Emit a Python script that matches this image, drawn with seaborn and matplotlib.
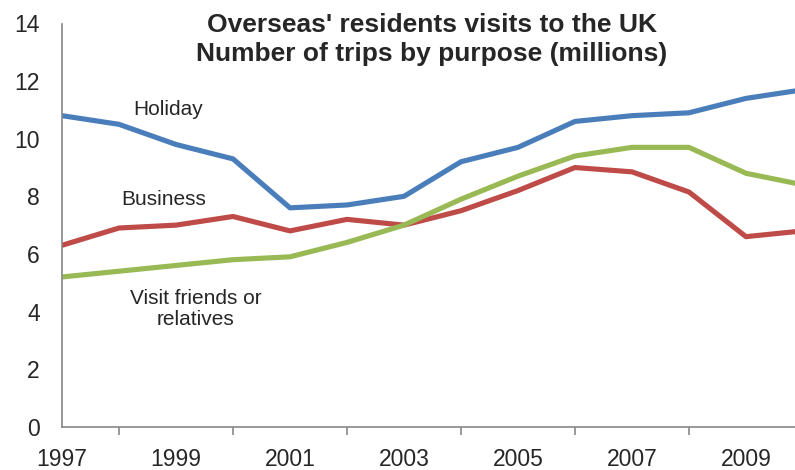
import pandas as pd
import seaborn as sns
import matplotlib.pyplot as plt

# data (millions of trips)
years = list(range(1997, 2011))
holiday = [10.8, 10.5, 9.8, 9.3, 7.6, 7.7, 8.0, 9.2, 9.7, 10.6, 10.8, 10.9, 11.4, 11.7]
business = [6.3, 6.9, 7.0, 7.3, 6.8, 7.2, 7.0, 7.5, 8.2, 9.0, 8.85, 8.15, 6.6, 6.8]
vfr = [5.2, 5.4, 5.6, 5.8, 5.9, 6.4, 7.0, 7.9, 8.7, 9.4, 9.7, 9.7, 8.8, 8.4]
series_names = ['Holiday', 'Business', 'Visit friends or\nrelatives']
colors = ['#4A7EBB', '#BE4B48', '#98B954']

df = pd.DataFrame({
    'year': years * 3,
    'trips': holiday + business + vfr,
    'purpose': [series_names[0]] * len(years) + [series_names[1]] * len(years) + [series_names[2]] * len(years),
})

sns.set_style('white')
plt.rcParams['font.family'] = ['Liberation Sans', 'DejaVu Sans']

fig = plt.figure(figsize=(7.95, 4.7), dpi=100)
ax = fig.add_axes([0.078, 0.092, 0.932, 0.858])

sns.lineplot(data=df, x='year', y='trips', hue='purpose', palette=colors,
             linewidth=3.7, legend=False, ax=ax)

ax.set_xlim(1997, 2010)
ax.set_ylim(0, 14)
ax.set_xticks(range(1997, 2011), minor=True)
ax.set_xticks(range(1997, 2011, 2))
ax.set_yticks(range(0, 15, 2))
ax.set_xlabel('')
ax.set_ylabel('')

for side in ['top', 'right']:
    ax.spines[side].set_visible(False)
for side in ['left', 'bottom']:
    ax.spines[side].set_color('#868686')
    ax.spines[side].set_linewidth(1.2)

ax.tick_params(axis='both', which='both', direction='out', length=6, width=1.2,
               color='#868686', labelsize=16.5)
ax.tick_params(axis='y', pad=10)
ax.tick_params(axis='x', pad=9.5)
ax.tick_params(axis='x', which='minor', bottom=True)

# series labels placed like the original
ax.text(1998.86, 11.03, 'Holiday', fontsize=15, ha='center', va='center')
ax.text(1998.79, 7.9, 'Business', fontsize=15, ha='center', va='center')
ax.text(1999.35, 4.09, series_names[2], fontsize=15, ha='center', va='center',
        linespacing=1.15)

fig.text(0.543, 0.916, "Overseas' residents visits to the UK\nNumber of trips by purpose (millions)",
         fontsize=19, fontweight='bold', ha='center', va='center', linespacing=1.25)

fig.savefig('out.png', dpi=100)
